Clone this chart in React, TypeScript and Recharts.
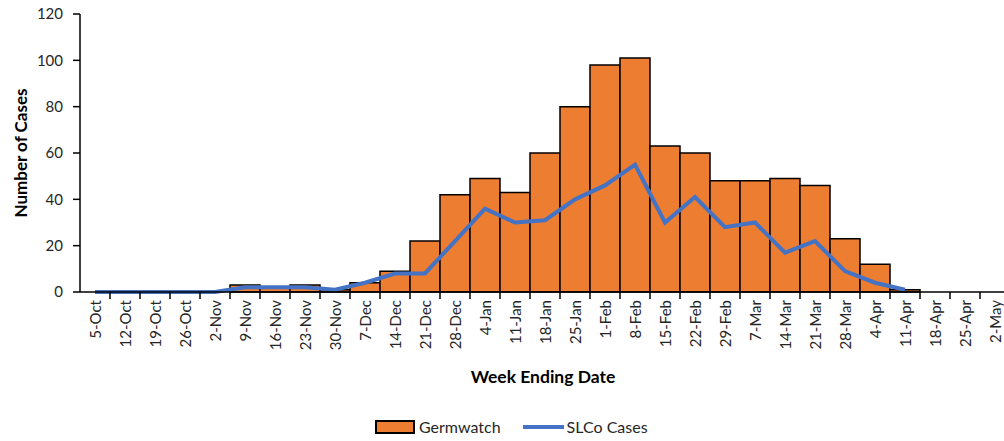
import React from 'react';
import { ComposedChart, Bar, Line, XAxis, YAxis } from 'recharts';

const weeks = [
  '5-Oct', '12-Oct', '19-Oct', '26-Oct', '2-Nov', '9-Nov', '16-Nov', '23-Nov', '30-Nov',
  '7-Dec', '14-Dec', '21-Dec', '28-Dec', '4-Jan', '11-Jan', '18-Jan', '25-Jan',
  '1-Feb', '8-Feb', '15-Feb', '22-Feb', '29-Feb', '7-Mar', '14-Mar', '21-Mar', '28-Mar',
  '4-Apr', '11-Apr', '18-Apr', '25-Apr', '2-May',
];

const germwatch = [
  0, 0, 0, 0, 0, 3, 2, 3, 1,
  4, 9, 22, 42, 49, 43, 60, 80,
  98, 101, 63, 60, 48, 48, 49, 46, 23,
  12, 1, 0, 0, 0,
];

const slcoCases = [
  0, 0, 0, 0, 0, 2, 2, 2, 1,
  4, 8, 8, 22, 36, 30, 31, 40,
  46, 55, 30, 41, 28, 30, 17, 22, 9,
  4, 1, null, null, null,
];

const yTicks = [0, 20, 40, 60, 80, 100, 120];

const ORANGE = '#ED7D31';
const BLUE = '#4472C4';
const TEXT = '#262626';
const FONT = 'Lato, "Open Sans", sans-serif';

const data = weeks.map((week, i) => ({
  week,
  germwatch: germwatch[i],
  slco: slcoCases[i],
}));

// Excel style: tick marks between categories, rotated labels under the center
const WeekTick = (props: any) => {
  const { x, y, payload } = props;
  const half = payload && payload.offset ? payload.offset : 15;
  return (
    <g>
      <line x1={x + half} y1={y} x2={x + half} y2={y + 7} stroke="#000" strokeWidth={1.5} />
      <text
        x={x}
        y={y + 8}
        transform={`rotate(-90, ${x}, ${y + 8})`}
        textAnchor="end"
        dominantBaseline="central"
        fontSize={15}
        fontFamily={FONT}
        fill={TEXT}
      >
        {payload.value}
      </text>
    </g>
  );
};

const XTitle = (props: any) => {
  const { viewBox } = props;
  return (
    <text
      x={viewBox.x + viewBox.width / 2 - 2}
      y={viewBox.y + 84}
      textAnchor="middle"
      dominantBaseline="central"
      fontSize={17.5}
      fontWeight="bold"
      fontFamily={FONT}
      fill="#000"
    >
      Week Ending Date
    </text>
  );
};

const YTitle = (props: any) => {
  const { viewBox } = props;
  const cx = 20;
  const cy = viewBox.y + viewBox.height / 2;
  return (
    <text
      x={cx}
      y={cy}
      transform={`rotate(-90, ${cx}, ${cy})`}
      textAnchor="middle"
      dominantBaseline="central"
      fontSize={17}
      fontWeight="bold"
      fontFamily={FONT}
      fill="#000"
    >
      Number of Cases
    </text>
  );
};

export default function App() {
  return (
    <div
      style={{
        position: 'absolute',
        left: 0,
        top: 0,
        width: 1004,
        height: 441,
        overflow: 'hidden',
        background: '#fff',
        fontFamily: FONT,
      }}
    >
      <ComposedChart
        width={1010}
        height={441}
        data={data}
        margin={{ top: 14, right: 0, bottom: 0, left: 0 }}
        barCategoryGap={0}
        barGap={0}
      >
        <XAxis
          dataKey="week"
          interval={0}
          height={149}
          tickLine={false}
          tickSize={0}
          tickMargin={0}
          axisLine={{ stroke: '#000', strokeWidth: 1.5 }}
          tick={<WeekTick />}
          label={<XTitle />}
        />
        <YAxis
          domain={[0, 120]}
          ticks={yTicks}
          width={80}
          tickSize={7}
          tickMargin={10}
          axisLine={{ stroke: '#000', strokeWidth: 1.5 }}
          tickLine={{ stroke: '#000', strokeWidth: 1.5 }}
          tick={{ fill: TEXT, fontSize: 15, fontFamily: FONT }}
          label={<YTitle />}
        />
        <Bar
          dataKey="germwatch"
          fill={ORANGE}
          stroke="#000"
          strokeWidth={1.5}
          isAnimationActive={false}
        />
        <Line
          dataKey="slco"
          type="linear"
          stroke={BLUE}
          strokeWidth={4}
          dot={false}
          connectNulls={false}
          isAnimationActive={false}
        />
      </ComposedChart>
      <div
        style={{
          position: 'absolute',
          left: 375,
          top: 417,
          display: 'flex',
          alignItems: 'center',
          fontSize: 16,
          color: TEXT,
          whiteSpace: 'nowrap',
        }}
      >
        <span
          style={{
            display: 'inline-block',
            width: 36,
            height: 10,
            background: ORANGE,
            border: '2px solid #000',
            marginRight: 4,
          }}
        />
        <span>Germwatch</span>
        <span
          style={{
            display: 'inline-block',
            width: 41,
            height: 4,
            background: BLUE,
            marginLeft: 22,
            marginRight: 3,
          }}
        />
        <span>SLCo Cases</span>
      </div>
    </div>
  );
}
